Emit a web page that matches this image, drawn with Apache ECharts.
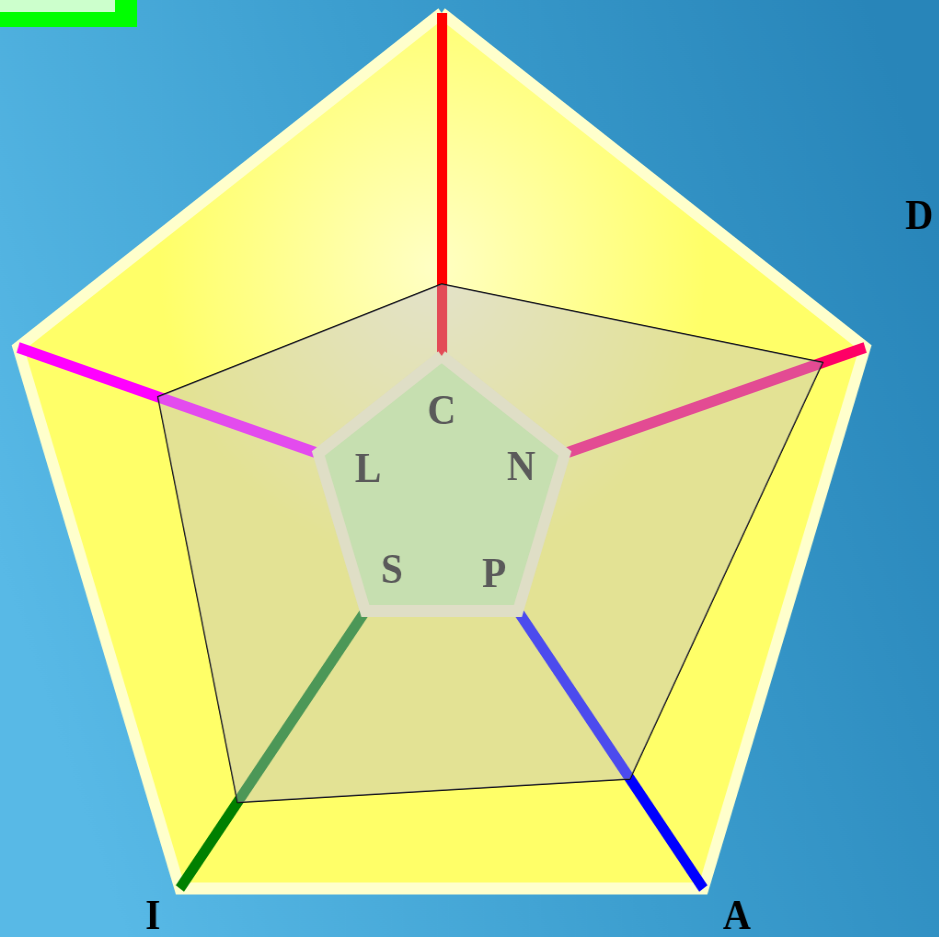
<!DOCTYPE html>
<html>
<head>
<meta charset="utf-8">
<script src="https://cdn.jsdelivr.net/npm/echarts@6/dist/echarts.min.js"></script>
<style>
  html, body { margin: 0; padding: 0; overflow: hidden; background: #3a9ccd; }
  /* the picture is a little narrower than tall, so the regular radar is squeezed sideways */
  #main { width: 1021px; height: 937px; transform: scaleX(0.92); transform-origin: 0 0; }
</style>
</head>
<body>
<div id="main"></div>
<script>
// axes go counter-clockwise from the top
let outerNames = ['', '', 'I', 'A', 'D'];
let innerNames = ['C', 'L', 'S', 'P', 'N'];
let axisColors = ['#ff0000', '#ff00ff', '#008000', '#0000ff', '#ff0066'];
let scores = [44, 67, 78, 72, 90];
let maxScore = 100;

let serif = "'Liberation Serif', 'Times New Roman', serif";

let chart = echarts.init(document.getElementById('main'));

// outer indicators, each with its own axis colour
let outerGaps = [37, 37, 36, 36, 46];
let outerIndicators = outerNames.map(function (name, i) {
  return {
    name: name,
    min: 0,
    max: maxScore,
    nameGap: outerGaps[i],
    axisLine: { lineStyle: { color: axisColors[i], width: 11, cap: 'butt' } }
  };
});

// inner letters, pulled back inside the small pentagon
let innerGaps = [-57, -57, -49, -44, -50];
let innerIndicators = innerNames.map(function (name, i) {
  return { name: name, min: 0, max: maxScore, nameGap: innerGaps[i] };
});

let option = {
  animation: false,
  backgroundColor: {
    type: 'linear', x: 0, y: 0.6, x2: 1, y2: 0.2,
    colorStops: [
      { offset: 0, color: '#58b9e6' },
      { offset: 0.5, color: '#3c9ecf' },
      { offset: 1, color: '#2885b9' }
    ]
  },
  graphic: [
    { type: 'rect', shape: { x: -20, y: -20, width: 169, height: 47 }, style: { fill: '#00ff00' } },
    { type: 'rect', shape: { x: -20, y: -20, width: 145, height: 32 }, style: { fill: '#ccffcc' } }
  ],
  radar: [
    {
      center: [480, 497],
      radius: 484,
      shape: 'polygon',
      splitNumber: 1,
      indicator: outerIndicators,
      axisName: {
        color: '#000',
        fontSize: 42,
        fontWeight: 'bold',
        fontFamily: serif,
        // D is drawn well above the end of its axis
        formatter: function (name) {
          return name === 'D' ? '{lift|' + name + '}' : name;
        },
        rich: {
          lift: {
            color: '#000',
            fontSize: 42,
            fontWeight: 'bold',
            fontFamily: serif,
            padding: [0, 0, 230, 0]
          }
        }
      },
      splitLine: { lineStyle: { color: '#ffffcc', width: 12 } },
      splitArea: {
        areaStyle: {
          color: [{
            type: 'radial', x: 0.49, y: 0.29, r: 0.34,
            colorStops: [
              { offset: 0, color: '#ffffc4' },
              { offset: 1, color: '#ffff68' }
            ]
          }]
        }
      },
      axisTick: { show: false },
      axisLabel: { show: false }
    },
    {
      // small centre pentagon with the letters, above the score area
      z: 3,
      center: [480, 497],
      radius: 141,
      shape: 'polygon',
      splitNumber: 1,
      indicator: innerIndicators,
      axisName: {
        color: '#5a5a5a',
        fontSize: 43,
        fontWeight: 'bold',
        fontFamily: serif,
        align: 'center',
        verticalAlign: 'middle'
      },
      axisLine: { show: false },
      splitLine: { lineStyle: { color: '#dfdec6', width: 12 } },
      splitArea: { areaStyle: { color: ['#c6dfb0'] } },
      axisTick: { show: false },
      axisLabel: { show: false }
    }
  ],
  series: [
    {
      type: 'radar',
      radarIndex: 0,
      symbol: 'none',
      lineStyle: { color: '#000', width: 1.5 },
      areaStyle: { color: 'rgba(186, 184, 214, 0.58)' },
      data: [{ value: scores }]
    }
  ]
};

chart.setOption(option);
</script>
</body>
</html>
